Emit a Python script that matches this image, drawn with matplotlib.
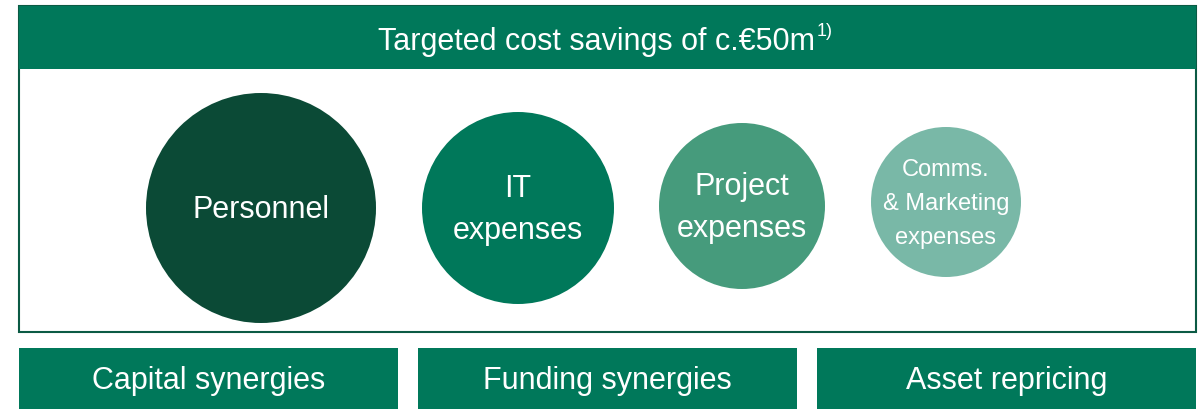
import matplotlib
matplotlib.use("Agg")
import matplotlib.pyplot as plt
from matplotlib.patches import Circle, Rectangle

plt.rcParams['font.family'] = ['Liberation Sans Narrow', 'Liberation Sans', 'DejaVu Sans']

# data
header_text = "Targeted cost savings of c.€50m"
header_note = "1)"
bubble_labels = ["Personnel", "IT\nexpenses", "Project\nexpenses", "Comms.\n& Marketing\nexpenses"]
bubble_sizes = [115, 96, 83, 75]
bubble_colors = ["#0b4a36", "#00785a", "#469b7c", "#79b8a7"]
bottom_labels = ["Capital synergies", "Funding synergies", "Asset repricing"]

GREEN = "#00785a"


def main():
    W, H = 1199, 409
    fig = plt.figure(figsize=(W / 100, H / 100), dpi=100)
    ax = fig.add_axes([0, 0, 1, 1])
    ax.set_xlim(0, W)
    ax.set_ylim(H, 0)
    ax.set_aspect('equal')
    ax.axis('off')

    # outer frame and header
    ax.add_patch(Rectangle((19, 6), 1177, 326, facecolor='white', edgecolor='#0b5a44', lw=1.5))
    ax.add_patch(Rectangle((19, 6), 1177, 63, facecolor=GREEN, edgecolor='none'))
    ax.text(815, 42, header_text, color='white', fontsize=22, ha='right', va='center')
    ax.text(817, 31, header_note, color='white', fontsize=13, ha='left', va='center')

    # bubbles
    centers = [(261, 208), (518, 208), (742, 206), (946, 202)]
    fsizes = [22, 22, 22, 17]
    spacing = [1.55, 1.55, 1.55, 1.7]
    for (cx, cy), r, lab, c, fs, ls in zip(centers, bubble_sizes, bubble_labels,
                                           bubble_colors, fsizes, spacing):
        ax.add_patch(Circle((cx, cy), r, facecolor=c, edgecolor='none'))
        ax.text(cx, cy + 2, lab, color='white', fontsize=fs, ha='center', va='center',
                linespacing=ls, multialignment='center')

    # bottom boxes
    bw, gap = 379, 20
    for i, lab in enumerate(bottom_labels):
        x0 = 19 + i * (bw + gap)
        ax.add_patch(Rectangle((x0, 348), bw, 62, facecolor=GREEN, edgecolor='none'))
        ax.text(x0 + bw / 2, 381, lab, color='white', fontsize=22, ha='center', va='center')

    fig.savefig("out.png", dpi=100)


if __name__ == "__main__":
    main()
